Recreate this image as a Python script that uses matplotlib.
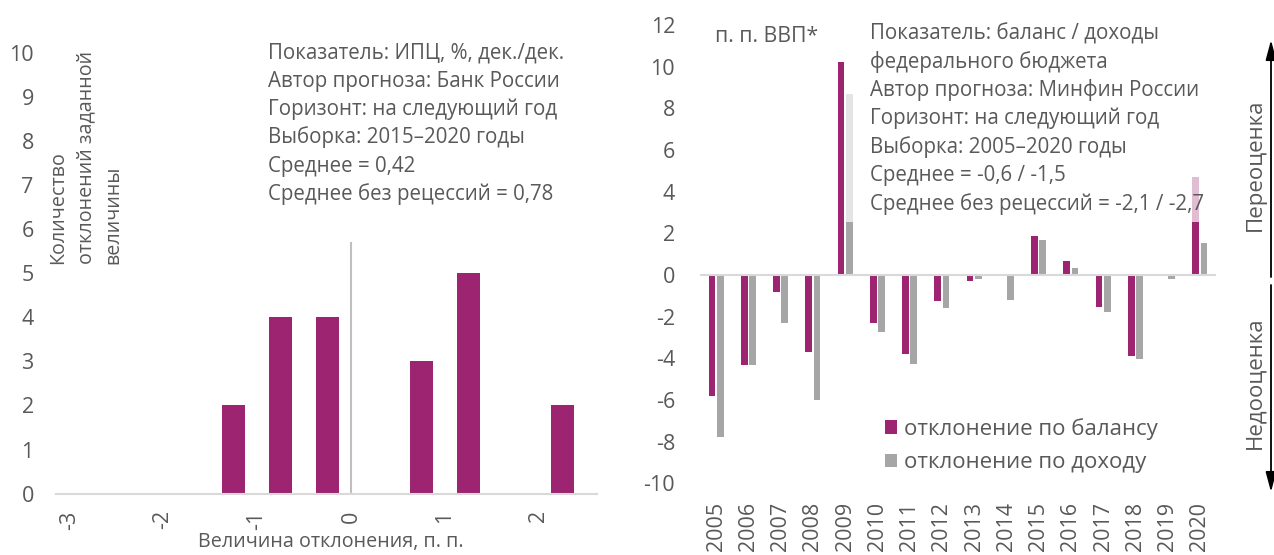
import matplotlib.pyplot as plt
from matplotlib.patches import Rectangle, FancyArrowPatch

# ============== Daten ==============
# linkes Diagramm: Verteilung der Abweichungen (ИПЦ)
hist_centers = [-2.75, -2.25, -1.75, -1.25, -0.75, -0.25, 0.25, 0.75, 1.25, 1.75, 2.25]
hist_counts = [0, 0, 0, 2, 4, 4, 0, 3, 5, 0, 2]
hist_ticks = [-3, -2, -1, 0, 1, 2]

# rechtes Diagramm: Abweichungen Haushalt, п. п. ВВП
years = ["2005", "2006", "2007", "2008", "2009", "2010", "2011", "2012",
         "2013", "2014", "2015", "2016", "2017", "2018", "2019", "2020"]
dev_balance = [-5.8, -4.3, -0.8, -3.7, 10.2, -2.3, -3.8, -1.25,
               -0.28, -0.05, 1.85, 0.67, -1.56, -3.9, -0.03, 4.7]
dev_income = [-7.8, -4.3, -2.3, -6.0, 8.7, -2.75, -4.25, -1.6,
              -0.2, -1.2, 1.7, 0.32, -1.8, -4.05, -0.18, 1.55]

left_info = ["Показатель: ИПЦ, %, дек./дек.",
             "Автор прогноза: Банк России",
             "Горизонт: на следующий год",
             "Выборка: 2015–2020 годы",
             "Среднее = 0,42",
             "Среднее без рецессий = 0,78"]
right_info = ["Показатель: баланс / доходы",
              "федерального бюджета",
              "Автор прогноза: Минфин России",
              "Горизонт: на следующий год",
              "Выборка: 2005–2020 годы",
              "Среднее = -0,6 / -1,5",
              "Среднее без рецессий = -2,1 / -2,7"]

# ============== Stil ==============
MAGENTA = "#9c2471"
GREY = "#a6a6a6"
TEXT = "#595959"
AXLINE = "#d9d9d9"
TICK_FS = 15.5
INFO_FS = 14.8

plt.rcParams["font.family"] = ["Open Sans", "DejaVu Sans"]
plt.rcParams["axes.unicode_minus"] = False

W, H = 1274, 555
fig = plt.figure(figsize=(W / 100, H / 100), dpi=100)


def fx(px):
    return px / W


def fy(py):
    return 1 - py / H


# ---------- linkes Diagramm ----------
ax1 = fig.add_axes([fx(56), fy(493.6), fx(597) - fx(56), fy(53) - fy(493.6)])
ax1.bar(hist_centers, hist_counts, width=0.245, color=MAGENTA, zorder=2)
ax1.set_xlim(-3.14, 2.62)
ax1.set_ylim(0, 10)
ax1.set_yticks(range(0, 11))
ax1.set_xticks(hist_ticks)
ax1.set_xticklabels([str(t) for t in hist_ticks], rotation=90)
ax1.vlines(0, 0, 5.7, color="#bfbfbf", lw=1.5, zorder=1)
for s in ["top", "right", "left"]:
    ax1.spines[s].set_visible(False)
ax1.spines["bottom"].set_color(AXLINE)
ax1.spines["bottom"].set_linewidth(1.5)
ax1.tick_params(axis="y", length=0, pad=16, labelsize=TICK_FS, labelcolor=TEXT)
ax1.tick_params(axis="x", length=0, pad=12, labelsize=TICK_FS, labelcolor=TEXT)

fig.text(fx(331), fy(542), "Величина отклонения, п. п.", ha="center", va="center",
         fontsize=14.2, color=TEXT)
fig.text(fx(86), fy(264), "Количество\nотклонений заданной\nвеличины", rotation=90,
         ha="center", va="bottom", multialignment="left", fontsize=14.2,
         color=TEXT, linespacing=1.5)

for i, line in enumerate(left_info):
    fig.text(fx(268), fy(58.3 + i * 28.4), line, ha="left", va="baseline",
             fontsize=INFO_FS, color=TEXT)

# ---------- rechtes Diagramm ----------
ax2 = fig.add_axes([fx(700), fy(483.3), fx(1216) - fx(700), fy(25) - fy(483.3)])
x = list(range(len(years)))
b1 = ax2.bar([i - 0.13 for i in x], dev_balance, width=0.21, color=MAGENTA, zorder=2,
             label="отклонение по балансу")
b2 = ax2.bar([i + 0.13 for i in x], dev_income, width=0.21, color=GREY, zorder=2,
             label="отклонение по доходу")
ax2.axhline(0, color=AXLINE, lw=1.5, zorder=3)
ax2.set_xlim(-0.5, 15.5)
ax2.set_ylim(-10, 12)
ax2.set_yticks(range(-10, 13, 2))
ax2.set_xticks(x)
ax2.set_xticklabels(years, rotation=90)
for s in ax2.spines.values():
    s.set_visible(False)
ax2.tick_params(axis="y", length=0, pad=18, labelsize=TICK_FS, labelcolor=TEXT)
ax2.tick_params(axis="x", length=0, pad=13.5, labelsize=TICK_FS, labelcolor=TEXT)

# halbtransparenter Hintergrund des Textfeldes
ax2.add_patch(Rectangle((4.0, 2.53), 11.4, 10, facecolor="white", alpha=0.7,
                        edgecolor="none", zorder=4))

fig.text(fx(715), fy(41.7), "п. п. ВВП*", ha="left", va="baseline",
         fontsize=15.3, color=TEXT)
for i, line in enumerate(right_info):
    fig.text(fx(870), fy(39.3 + i * 28.4), line, ha="left", va="baseline",
             fontsize=INFO_FS, color=TEXT)

leg = ax2.legend(handles=[b1, b2], loc="upper left",
                 bbox_to_anchor=(fx(885), fy(418)), bbox_transform=fig.transFigure,
                 frameon=False, fontsize=16, handlelength=0.55, handleheight=0.55,
                 handletextpad=0.3, labelspacing=0.55, borderpad=0, borderaxespad=0)
for t in leg.get_texts():
    t.set_color(TEXT)

# Pfeile Переоценка / Недооценка
arr = "-|>,head_length=0.6,head_width=0.16"
fig.add_artist(FancyArrowPatch((fx(1271), fy(277)), (fx(1271), fy(40)),
                               transform=fig.transFigure, arrowstyle=arr,
                               mutation_scale=20, color="black", lw=1.3,
                               shrinkA=0, shrinkB=0))
fig.add_artist(FancyArrowPatch((fx(1271), fy(285)), (fx(1271), fy(492)),
                               transform=fig.transFigure, arrowstyle=arr,
                               mutation_scale=20, color="black", lw=1.3,
                               shrinkA=0, shrinkB=0))
fig.text(fx(1255), fy(165), "Переоценка", rotation=90, ha="center", va="center",
         fontsize=16, color=TEXT)
fig.text(fx(1255), fy(383), "Недооценка", rotation=90, ha="center", va="center",
         fontsize=16, color=TEXT)

fig.savefig("out.png", dpi=100)
